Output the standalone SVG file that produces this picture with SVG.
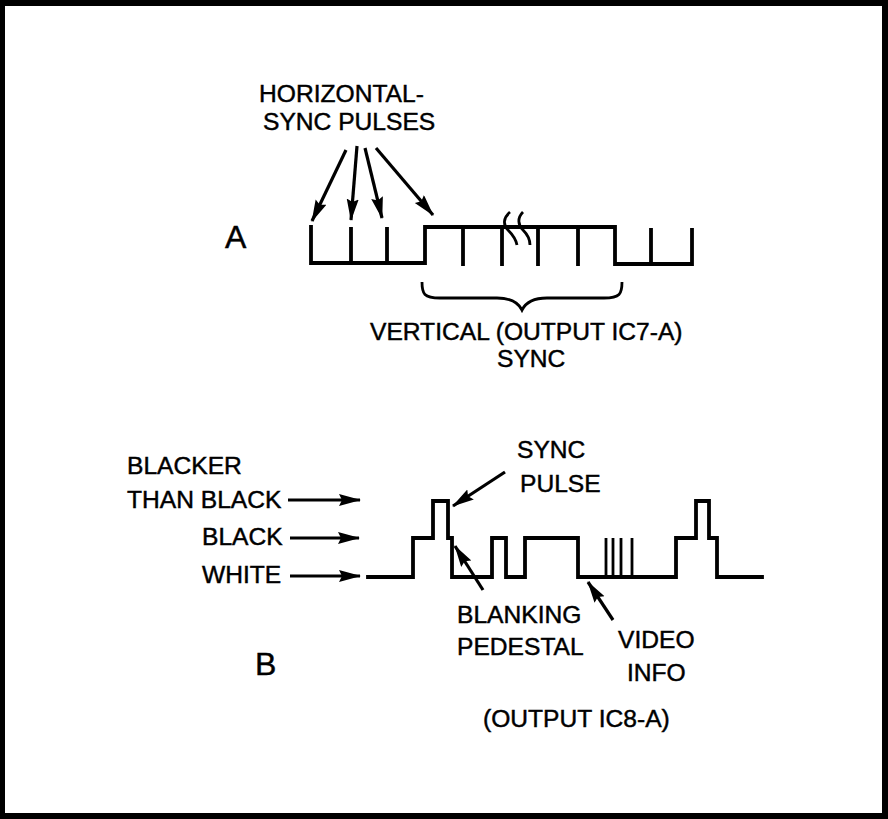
<svg xmlns="http://www.w3.org/2000/svg" width="888" height="819" viewBox="0 0 888 819">
<defs>
<style>
.t{font-family:"Liberation Sans",Arial,sans-serif;font-size:24.6px;fill:#000;stroke:#000;stroke-width:0.45}
.big{font-size:32px}
.w{fill:none;stroke:#000;stroke-width:3.8;stroke-linejoin:miter;stroke-linecap:square}
.tk{fill:none;stroke:#000;stroke-width:3.8}
.thin{fill:none;stroke:#000;stroke-width:2.8}
.ar{fill:none;stroke:#000;stroke-width:3.2;marker-end:url(#ah)}
</style>
<marker id="ah" markerUnits="userSpaceOnUse" markerWidth="24" markerHeight="14" refX="21" refY="6" orient="auto">
<path d="M0,0 L22,6 L0,12 L3,6 z" fill="#000"/>
</marker>
</defs>
<rect x="0" y="0" width="888" height="819" fill="#000"/>
<rect x="5" y="6" width="877" height="807" fill="#fff"/>

<g id="labelA">
<text class="t big" x="225" y="248">A</text>
</g>
<g id="hsync-label">
<text class="t" x="259" y="102">HORIZONTAL-</text>
<text class="t" x="263" y="130">SYNC PULSES</text>
</g>
<g id="waveformA">
<path class="w" d="M311,227 V263 H425 V227 H615 V264 H692 V230"/>
<path class="tk" d="M351,227 V263 M387,227 V263 M463,227 V266 M502,227 V266 M538,227 V266 M578,227 V266 M651,228 V264"/>
<path class="thin" d="M510,212 C503,218 503,225 508,230 C514,236 516,240 517,245"/>
<path class="thin" d="M523,212 C517,218 518,225 523,230 C528,235 530,240 530,245"/>
</g>
<g id="vsync">
<path class="thin" d="M422,282 C422,294 424,298 440,298 L497,298 C511,298 518,302 522,310 C526,302 533,298 547,298 L604,298 C620,298 622,294 622,282"/>
<text class="t" x="370" y="340">VERTICAL (OUTPUT IC7-A)</text>
<text class="t" x="497" y="367">SYNC</text>
</g>

<g id="levels">
<text class="t" x="127" y="474">BLACKER</text>
<text class="t" x="127" y="508">THAN BLACK</text>
<text class="t" x="202" y="545">BLACK</text>
<text class="t" x="202" y="583">WHITE</text>
</g>
<g id="waveformB">
<path class="w" d="M368,577 H413 V538 H433 V501 H448 V538 H452 V577 H492 V538 H506 V577 H525 V538 H578 V577 H676 V538 H696 V501 H709 V538 H717 V577 H762"/>
<path class="thin" d="M606,577 V538 M613,577 V538 M621,577 V538 M632,577 V538"/>
</g>
<g id="syncpulse">
<text class="t" x="517" y="458">SYNC</text>
<text class="t" x="520" y="492">PULSE</text>
</g>
<g id="blanking">
<text class="t" x="457" y="623">BLANKING</text>
<text class="t" x="457" y="655">PEDESTAL</text>
</g>
<g id="video">
<text class="t" x="618" y="648">VIDEO</text>
<text class="t" x="627" y="681">INFO</text>
</g>
<g id="labelB">
<text class="t big" x="255" y="675">B</text>
<text class="t" x="483" y="727">(OUTPUT IC8-A)</text>
</g>

<g id="connectors">
<line class="ar" x1="346" y1="150" x2="312" y2="221"/>
<line class="ar" x1="357" y1="146" x2="351" y2="220"/>
<line class="ar" x1="365" y1="148" x2="382" y2="218"/>
<line class="ar" x1="376" y1="148" x2="433" y2="215"/>
<line class="ar" x1="288" y1="500" x2="360" y2="500"/>
<line class="ar" x1="290" y1="538" x2="359" y2="538"/>
<line class="ar" x1="290" y1="576" x2="360" y2="576"/>
<line class="ar" x1="505" y1="472" x2="453" y2="506"/>
<line class="ar" x1="483" y1="590" x2="455" y2="546"/>
<line class="ar" x1="613" y1="620" x2="588" y2="582"/>
</g>
</svg>
